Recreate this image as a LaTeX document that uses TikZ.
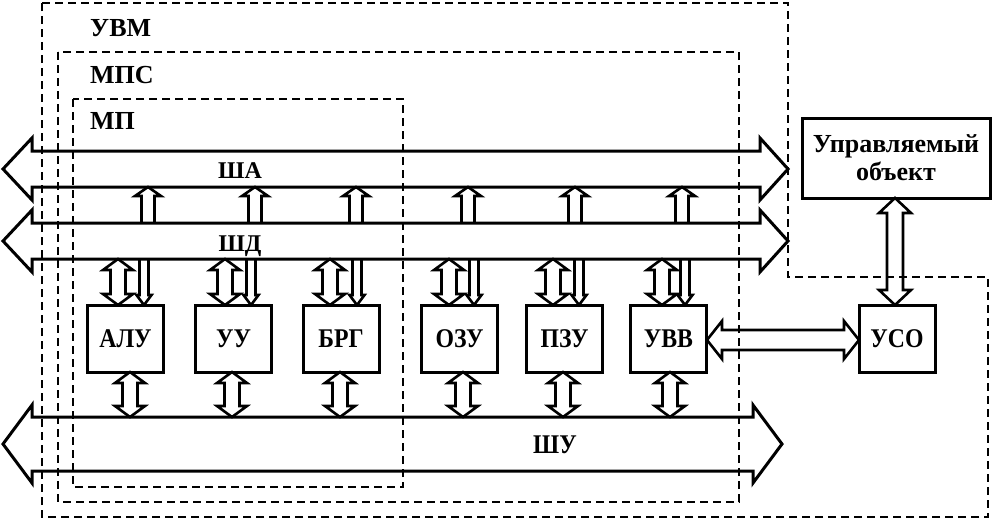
\documentclass[tikz,border=0pt]{standalone}
\usepackage{fontspec}
\setmainfont{Liberation Serif}
\newfontfamily\condserif[FakeStretch=0.88]{Liberation Serif}
\tikzset{
  dashbox/.style={line width=2pt, dash pattern=on 8pt off 5pt},
  solid line/.style={line width=3pt, line join=miter},
  blk/.style={draw, line width=3pt, minimum width=76pt, minimum height=67pt, inner sep=0pt, font=\condserif\fontsize{27}{29}\selectfont\bfseries},
  lbl/.style={inner sep=0pt, font=\fontsize{26}{28}\selectfont\bfseries},
  buslbl/.style={inner sep=0pt, font=\fontsize{24}{26}\selectfont\bfseries},
  arr/.style={line width=2.6pt, line join=miter}
}
% vertical double-headed hollow arrow: x, ytop, ybot, shaft half, head half, head length
\newcommand\vdblarr[6]{\draw[arr] ({#1-#4},{#2+#6}) -- ({#1-#5},{#2+#6}) -- (#1,#2) -- ({#1+#5},{#2+#6}) -- ({#1+#4},{#2+#6}) -- ({#1+#4},{#3-#6}) -- ({#1+#5},{#3-#6}) -- (#1,#3) -- ({#1-#5},{#3-#6}) -- ({#1-#4},{#3-#6}) -- cycle;}
% horizontal double-headed hollow arrow: y, xleft, xright, shaft half, head half, head length
\newcommand\hdblarr[6]{\draw[arr] ({#2+#6},{#1-#4}) -- ({#2+#6},{#1-#5}) -- (#2,#1) -- ({#2+#6},{#1+#5}) -- ({#2+#6},{#1+#4}) -- ({#3-#6},{#1+#4}) -- ({#3-#6},{#1+#5}) -- (#3,#1) -- ({#3-#6},{#1-#5}) -- ({#3-#6},{#1-#4}) -- cycle;}
% single hollow arrow, open at its base: x, ytip, ybase, shaft half, head half, head length (signed)
\newcommand\vsglarr[6]{\draw[arr] ({#1-#4},#3) -- ({#1-#4},{#2+#6}) -- ({#1-#5},{#2+#6}) -- (#1,#2) -- ({#1+#5},{#2+#6}) -- ({#1+#4},{#2+#6}) -- ({#1+#4},#3);}
% bus: ytop, ybot, head extension, right base, right tip
\newcommand\busarr[5]{\draw[solid line] (32,#1) -- (#4,#1) -- (#4,{#1-#3}) -- (#5,{(#1+#2)/2}) -- (#4,{#2+#3}) -- (#4,#2) -- (32,#2) -- (32,{#2+#3}) -- (3,{(#1+#2)/2}) -- (32,{#1-#3}) -- cycle;}
\begin{document}
\begin{tikzpicture}[x=1pt,y=-1pt]
\useasboundingbox (0,0) rectangle (994,520);
% dashed enclosures
\draw[dashbox] (73,99) rectangle (403,487);
\draw[dashbox] (58,52) rectangle (739,502);
\draw[dashbox] (42,3) -- (788,3) -- (788,277) -- (988,277) -- (988,517) -- (42,517) -- cycle;
\node[lbl, anchor=base west] (uvm) at (90,36) {УВМ};
\node[lbl, anchor=base west] (mps) at (90,83) {МПС};
\node[lbl, anchor=base west] (mp) at (90,129) {МП};
% buses
\busarr{151}{187}{13}{760}{788}
\busarr{223}{259}{13}{760}{788}
\busarr{417}{471}{12}{753}{782}
\node[buslbl, anchor=base] (sha) at (240,178) {ША};
\node[buslbl, anchor=base] (shd) at (240,251) {ШД};
\node[inner sep=0pt, anchor=base, font=\condserif\fontsize{27}{29}\selectfont\bfseries] (shu) at (555,453) {ШУ};
% blocks
\node[blk] (alu) at (125.5,338.5) {АЛУ};
\node[blk] (uu) at (233.5,338.5) {УУ};
\node[blk] (brg) at (341,338.5) {БРГ};
\node[blk] (ozu) at (459.5,338.5) {ОЗУ};
\node[blk] (pzu) at (564.5,338.5) {ПЗУ};
\node[blk] (uvv) at (668.5,338.5) {УВВ};
\node[blk] (uso) at (897,338.5) {УСО};
\node[draw, line width=3pt, minimum width=188pt, minimum height=80pt, inner sep=0pt, align=center,
      font=\fontsize{26}{28}\selectfont\bfseries] (obj) at (896,158) {Управляемый\\объект};
% ШД -> ША arrows
\foreach \x in {148,255,356,468,575,682} {\vsglarr{\x}{187}{223}{6.5}{13}{9}}
% ШД <-> blocks
\foreach \x in {118,225,330,449,553,662} {\vdblarr{\x}{259}{305}{7.5}{15}{11}}
% thin arrows down into blocks
\foreach \x in {144,251,357,474,579,685} {\vsglarr{\x}{305}{259}{4.5}{7.5}{-10}}
% blocks <-> ШУ
\foreach \x in {130,232,340,463,563,670} {\vdblarr{\x}{372}{417}{7.5}{15}{11}}
% УВВ <-> УСО
\hdblarr{340}{707}{859}{10}{19}{15}
% object <-> УСО
\vdblarr{895}{198}{305}{8}{16}{15}
\end{tikzpicture}
\end{document}
